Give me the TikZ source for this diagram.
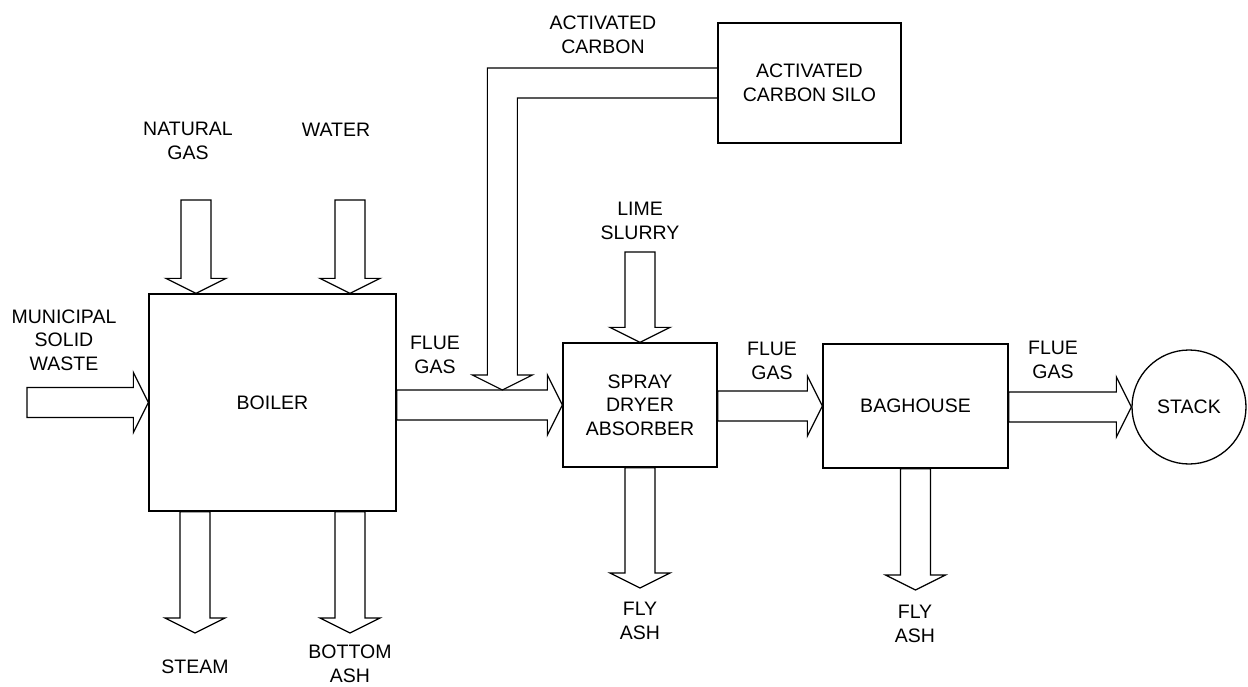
\documentclass[tikz,border=0pt]{standalone}
\usepackage{fontspec}
\setmainfont{Liberation Sans}
\usetikzlibrary{calc,positioning}

\newcommand{\shaftw}{15pt} % half width of a flow shaft
\newcommand{\headw}{30pt}  % half width of a flow head
\newcommand{\headl}{15pt}  % length of a flow head
% hollow flow arrow to the right: starts at x of #1, tip at #2
\newcommand{\rightflow}[2]{\draw[flow] let \p1=(#1), \p2=(#2) in
  (\x1,\y2+\shaftw) -- (\x2-\headl,\y2+\shaftw) -- (\x2-\headl,\y2+\headw) -- (\p2)
  -- (\x2-\headl,\y2-\headw) -- (\x2-\headl,\y2-\shaftw) -- (\x1,\y2-\shaftw) -- cycle;}
% hollow flow arrow downwards: starts at y of #1, tip at #2
\newcommand{\downflow}[2]{\draw[flow] let \p1=(#1), \p2=(#2) in
  (\x2-\shaftw,\y1) -- (\x2-\shaftw,\y2+\headl) -- (\x2-\headw,\y2+\headl) -- (\p2)
  -- (\x2+\headw,\y2+\headl) -- (\x2+\shaftw,\y2+\headl) -- (\x2+\shaftw,\y1) -- cycle;}

\begin{document}
\begin{tikzpicture}[x=1pt,y=-1pt,line width=1.3pt,
    font=\fontsize{19.5}{23.5}\selectfont,
    unit/.style={draw,rectangle,align=center,inner sep=0pt},
    tag/.style={align=center,inner sep=0pt},
    flow/.style={line width=1.2pt,line join=miter}]
  \useasboundingbox (0,0) rectangle (1248,687);

  % process units
  \node[unit,minimum width=247pt,minimum height=217pt] (boiler) at (272.5,402.5) {BOILER};
  \node[unit,minimum width=154pt,minimum height=124pt] (sda) at (640,405) {SPRAY\\DRYER\\ABSORBER};
  \node[unit,minimum width=185pt,minimum height=124pt] (baghouse) at (915.5,406) {BAGHOUSE};
  \node[unit,minimum width=183pt,minimum height=120pt] (silo) at (809.5,83) {ACTIVATED\\CARBON SILO};
  \node[draw,circle,minimum size=114pt,inner sep=0pt] (stack) at (1189,407) {STACK};

  % free ends of the flows
  \coordinate (msw) at (27,402.5);
  \coordinate (gas) at (196,200);
  \coordinate (water) at (350,200);
  \coordinate (lime) at (640,252);
  \coordinate (steam) at (195,633);
  \coordinate (btmash) at (350,633);
  \coordinate (flyash1) at (640,588);
  \coordinate (flyash2) at (915.5,590);
  \coordinate (carbontip) at ($(sda.west)+(-60,-15)$);

  % flows
  \rightflow{msw}{boiler.west}
  \rightflow{boiler.east}{sda.west}
  \rightflow{sda.east}{baghouse.west}
  \rightflow{baghouse.east}{stack.west}
  \downflow{gas}{gas |- boiler.north}
  \downflow{water}{water |- boiler.north}
  \downflow{lime}{sda.north}
  \downflow{boiler.south}{steam}
  \downflow{boiler.south}{btmash}
  \downflow{sda.south}{flyash1}
  \downflow{baghouse.south}{flyash2}
  \draw[flow] let \p1=(silo.west), \p2=(carbontip) in
    (\x1,\y1+\shaftw) -- (\x2-\shaftw,\y1+\shaftw) -- (\x2-\shaftw,\y2+\headl) -- (\x2-\headw,\y2+\headl)
    -- (\p2) -- (\x2+\headw,\y2+\headl) -- (\x2+\shaftw,\y2+\headl) -- (\x2+\shaftw,\y1-\shaftw) -- (\x1,\y1-\shaftw);

  % flow labels
  \node[tag] (mswtext) at (64,340) {MUNICIPAL\\SOLID\\WASTE};
  \node[tag] (gastext) at (188,141) {NATURAL\\GAS};
  \node[tag] (watertext) at (336,130) {WATER};
  \node[tag] (carbontext) at (603,35) {ACTIVATED\\CARBON};
  \node[tag] (limetext) at (640,221) {LIME\\SLURRY};
  \node[tag] (flue1) at (435,355) {FLUE\\GAS};
  \node[tag] (flue2) at (772,361) {FLUE\\GAS};
  \node[tag] (flue3) at (1053,360) {FLUE\\GAS};
  \node[tag] (steamtext) at (195,667) {STEAM};
  \node[tag] (btmtext) at (350,664) {BOTTOM\\ASH};
  \node[tag] (fly1text) at (640,621) {FLY\\ASH};
  \node[tag] (fly2text) at (915,624) {FLY\\ASH};
\end{tikzpicture}
\end{document}
